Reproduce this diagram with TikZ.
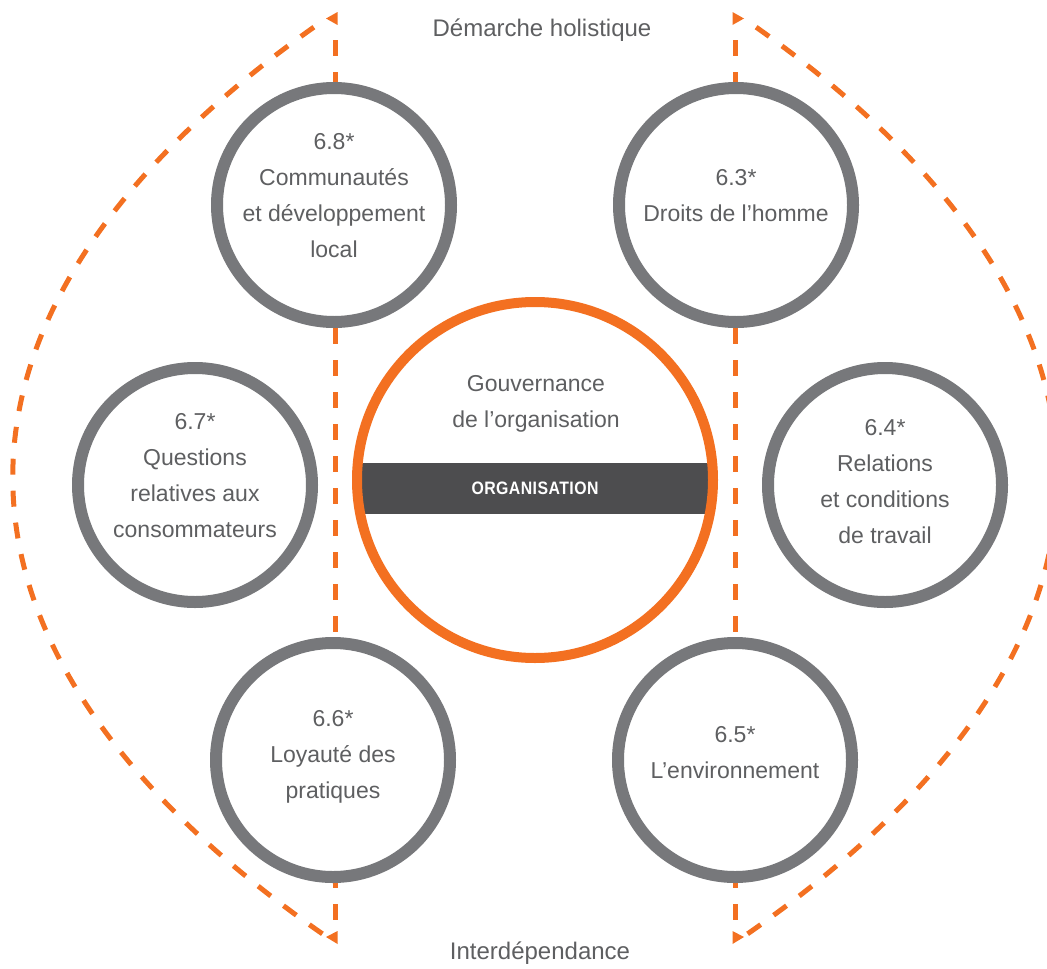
\documentclass[tikz,border=0pt]{standalone}
\usepackage{fontspec}
\setmainfont{Liberation Sans}
\newfontfamily\barfont[FakeStretch=0.88, LetterSpace=2.5]{Liberation Sans}
\usepackage[HTML]{xcolor}
\usepackage{tikz}
\usetikzlibrary{positioning}

\definecolor{isoorange}{HTML}{F37021}
\definecolor{isogray}{HTML}{77787B}
\definecolor{isobar}{HTML}{4D4D4F}
\definecolor{isotext}{HTML}{5E5F61}

\begin{document}
\begin{tikzpicture}[x=1pt, y=-1pt,
  every node/.style={text=isotext, align=center, font=\fontsize{23}{36}\selectfont},
  theme/.style={circle, draw=isogray, line width=12pt, fill=white, minimum size=234pt, inner sep=0pt},
  gouv/.style={circle, draw=isoorange, line width=10pt, minimum size=356pt, inner sep=0pt},
  link/.style={isoorange, line width=5pt, dash pattern=on 16pt off 16pt, dash phase=16pt},
  tip/.style={fill=isoorange}]
\useasboundingbox (0,0) rectangle (1047,969);

% --- Dashed frame ---
\coordinate (ltop) at (335,24);
\coordinate (lbot) at (335,932);
\coordinate (rtop) at (735,24);
\coordinate (rbot) at (735,932);
\draw[link] (ltop) -- (lbot);
\draw[link] (rtop) -- (rbot);
\draw[link] (327,18) .. controls (-92,307) and (-92,648) .. (327,937);
\draw[link] (743,18) .. controls (1162,307) and (1162,648) .. (743,937);
\fill[tip] (337.5,12) -- (337.5,25) -- (326,18.5) -- cycle;
\fill[tip] (337.5,931) -- (337.5,944) -- (326,937) -- cycle;
\fill[tip] (732.5,12) -- (732.5,25) -- (744,18.5) -- cycle;
\fill[tip] (732.5,931) -- (732.5,944) -- (744,937) -- cycle;

% --- Labels ---
\node[font=\fontsize{24}{28}\selectfont] (holistic) at (542,30) {Démarche holistique};
\node[font=\fontsize{24}{28}\selectfont] (interdep) at (540,953) {Interdépendance};

% --- Central organisation ---
\node[fill=isobar, minimum width=356pt, minimum height=51pt, inner sep=0pt,
  text=white, font=\barfont\bfseries\fontsize{18}{18}\selectfont] (orgbar) at (535,488.5) {ORGANISATION};
\node[gouv] (org) at (535,480) {};
\node (gouvtext) at (536,404) {Gouvernance\\de l’organisation};

% --- Core subjects ---
\node[theme] (c68) at (334,205) {};
\node[theme] (c63) at (736,205) {};
\node[theme] (c67) at (195,485) {};
\node[theme] (c64) at (885,485) {};
\node[theme] (c66) at (333,760) {};
\node[theme] (c65) at (735,760) {};

\node at ([yshift=9pt]c68) {6.8*\\Communautés\\et développement\\local};
\node at ([yshift=9pt]c63) {6.3*\\Droits de l’homme};
\node at ([yshift=9pt]c67) {6.7*\\Questions\\relatives aux\\consommateurs};
\node at ([yshift=3pt]c64) {6.4*\\Relations\\et conditions\\de travail};
\node at ([yshift=3pt]c66) {6.6*\\Loyauté des\\pratiques};
\node at ([yshift=7pt]c65) {6.5*\\L’environnement};
\end{tikzpicture}
\end{document}
